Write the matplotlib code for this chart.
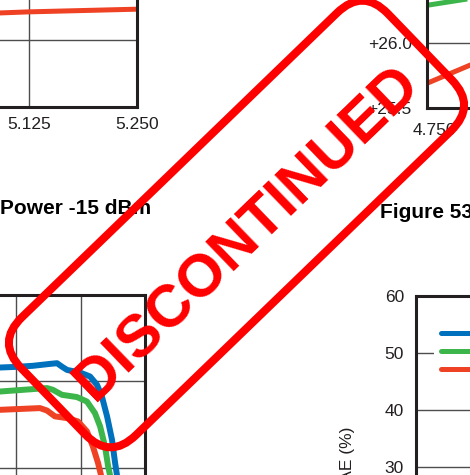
import matplotlib
matplotlib.use('Agg')
import matplotlib.pyplot as plt
from matplotlib.lines import Line2D
from matplotlib.patches import FancyBboxPatch
from matplotlib.transforms import Affine2D, ScaledTranslation

plt.rcParams['font.family'] = ['Liberation Sans', 'DejaVu Sans']

BLUE = '#0071bc'
GREEN = '#3cb54a'
RED = '#ef4123'
INK = '#231f20'
STAMP = '#ff0000'

# gain vs frequency, top row (only the lower part of each panel)
freq_top = [4.750, 4.875, 5.000, 5.125, 5.250]
gain_tl_red = [26.14, 26.16, 26.18, 26.21, 26.23]
freq_tr = [4.750, 4.875]
gain_tr_green = [26.29, 26.42]
gain_tr_red = [25.69, 26.04]
gain_ticks = [25.5, 26.0, 26.5, 27.0, 27.5]

# output power roll-off, bottom-left panel
bl_blue_x = [5.25, 5.438, 5.504, 5.566, 5.632, 5.659, 5.678, 5.698, 5.748, 5.787,
             5.814, 5.833, 5.853, 5.872, 5.884, 5.891, 5.895]
bl_blue_y = [30.70, 30.80, 30.84, 30.90, 31.01, 31.05, 30.85, 30.66, 30.51, 30.28,
             29.80, 29.12, 27.97, 26.62, 25.29, 24.60, 24.0]
bl_green_x = [5.25, 5.438, 5.620, 5.643, 5.678, 5.736, 5.775, 5.806, 5.826, 5.845,
              5.857, 5.864, 5.868]
bl_green_y = [29.35, 29.41, 29.61, 29.51, 29.22, 29.09, 28.83, 28.16, 27.39, 26.23,
              25.08, 24.60, 24.0]
bl_red_x = [5.25, 5.438, 5.593, 5.620, 5.651, 5.698, 5.740, 5.775, 5.798, 5.818,
            5.829, 5.833]
bl_red_y = [28.30, 28.35, 28.45, 28.31, 27.97, 27.87, 27.68, 27.10, 26.23, 25.27,
            24.60, 24.0]

# PAE panel, bottom-right
pae_ticks = [0, 10, 20, 30, 40, 50, 60]
pae_labels = ['4.9 GHz', '5.5 GHz', '5.9 GHz']

W, H = 470, 475
fig = plt.figure(figsize=(W / 100, H / 100), dpi=100)


def box(x0, y0, x1, y1):
    # page pixel box (top-left origin) -> figure fraction rect
    return [x0 / W, 1 - y1 / H, (x1 - x0) / W, (y1 - y0) / H]


def style(ax, xpad, ypad):
    ax.grid(True, color='#4d4d4d', lw=1.0)
    ax.set_axisbelow(True)
    ax.tick_params(length=0, labelsize=12.5, colors=INK)
    ax.tick_params(axis='x', pad=xpad)
    ax.tick_params(axis='y', pad=ypad)
    for s in ax.spines.values():
        s.set_linewidth(2.2)
        s.set_color(INK)


# top-left panel
ax1 = fig.add_axes(box(-295, -161, 137, 107))
ax1.plot(freq_top, gain_tl_red, color=RED, lw=3.6, solid_capstyle='butt')
ax1.set_xlim(4.750, 5.250)
ax1.set_ylim(25.5, 27.5)
ax1.set_xticks(freq_top, [f'{f:.3f}' for f in freq_top])
ax1.set_yticks(gain_ticks, [f'+{g:.1f}' for g in gain_ticks])
style(ax1, 7, 11)

# top-right panel
ax2 = fig.add_axes(box(427, -152, 859, 108))
ax2.plot(freq_tr, gain_tr_green, color=GREEN, lw=3.6, solid_capstyle='butt')
ax2.plot(freq_tr, gain_tr_red, color=RED, lw=3.6, solid_capstyle='butt')
ax2.set_xlim(4.750, 5.250)
ax2.set_ylim(25.5, 27.5)
ax2.set_xticks(freq_top, [f'{f:.3f}' for f in freq_top])
ax2.set_yticks(gain_ticks, [f'+{g:.1f}' for g in gain_ticks])
style(ax2, 11, 11)
nudge = ScaledTranslation(7 / 100, 0, fig.dpi_scale_trans)
for lbl in ax2.get_xticklabels():
    lbl.set_transform(lbl.get_transform() + nudge)

# bottom-left panel
ax3 = fig.add_axes(box(-113, 295, 145, 554))
ax3.plot(bl_blue_x, bl_blue_y, color=BLUE, lw=4.3, solid_joinstyle='round')
ax3.plot(bl_green_x, bl_green_y, color=GREEN, lw=4.3, solid_joinstyle='round')
ax3.plot(bl_red_x, bl_red_y, color=RED, lw=4.3, solid_joinstyle='round')
ax3.set_xlim(5.0, 6.0)
ax3.set_ylim(20, 35)
ax3.set_xticks([5.0, 5.25, 5.5, 5.75, 6.0])
ax3.set_yticks([20, 25, 30, 35])
style(ax3, 8, 8)

# bottom-right panel
ax4 = fig.add_axes(box(416, 295.5, 860, 639))
ax4.set_xlim(4.5, 6.5)
ax4.set_ylim(0, 60)
ax4.set_xticks([5.0, 6.0])
ax4.set_yticks(pae_ticks)
style(ax4, 8, 8.6)
ax4.set_ylabel('PAE (%)', fontsize=12.5, color=INK, ha='right')
ax4.yaxis.set_label_coords((355 - 416) / 444, (639 - 427) / 343.5)
handles = [Line2D([], [], color=c, lw=3.6, solid_capstyle='round') for c in (BLUE, GREEN, RED)]
ax4.legend(handles, pae_labels, loc='upper left', bbox_to_anchor=(434 / W, 1 - 320 / H),
           bbox_transform=fig.transFigure, fontsize=10, labelspacing=0.3,
           handlelength=3, borderpad=0.5, borderaxespad=0, frameon=True,
           facecolor='white', edgecolor='none', framealpha=1)

# figure captions
fig.text(0 / W, 1 - 208 / H, 'Power -15 dBm', ha='left', va='center',
         fontsize=15, fontweight='bold', color='black')
fig.text(380 / W, 1 - 213 / H, 'Figure 53', ha='left', va='center',
         fontsize=15, fontweight='bold', color='black')

# stamp across the page
ang = 44
fx, fy = 236.5, H - 224
tf = Affine2D().rotate_deg_around(fx, fy, ang) + Affine2D().scale(1 / W, 1 / H) + fig.transFigure
frame = FancyBboxPatch((fx - 255, fy - 82), 510, 164,
                       boxstyle='round,pad=0,rounding_size=36',
                       fill=False, ec=STAMP, lw=5.8, transform=tf, zorder=10)
fig.add_artist(frame)
tx, ty = 243, H - 229
fig.text(tx / W, ty / H, 'DISCONTINUED', rotation=ang, rotation_mode='anchor',
         ha='center', va='center_baseline', color=STAMP, fontsize=43, fontweight='bold',
         zorder=10)

fig.savefig('out.png', dpi=100)
